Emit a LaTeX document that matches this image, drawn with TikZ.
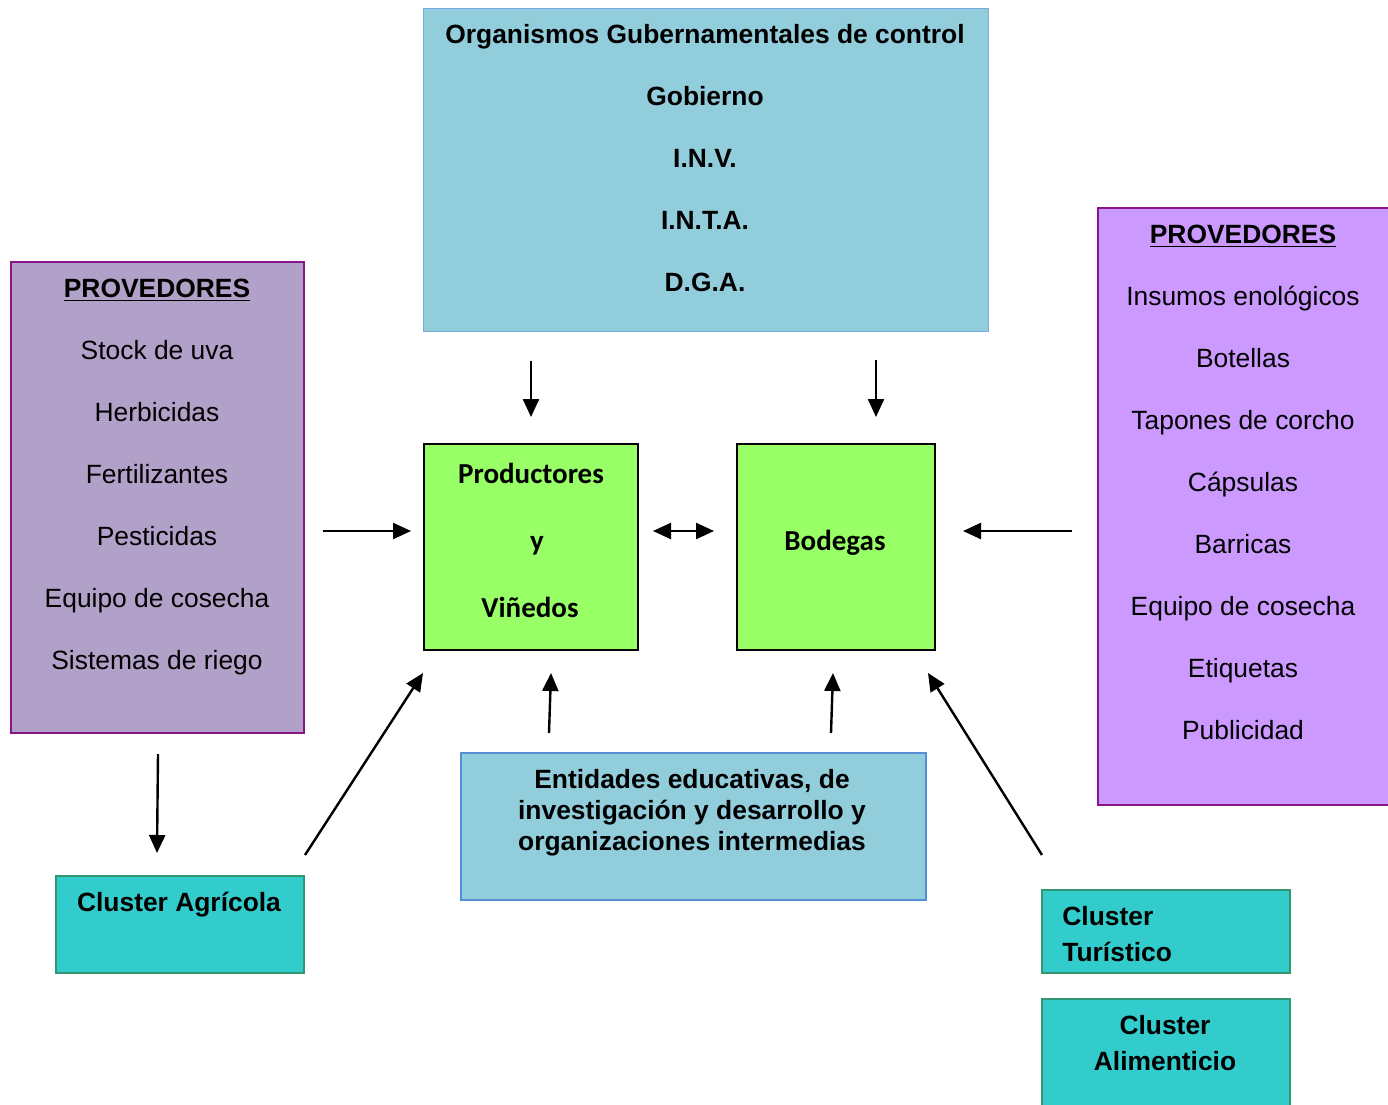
\documentclass[tikz,border=0pt]{standalone}
\usepackage{fontspec}
\setmainfont{Liberation Sans}
\newfontfamily\calib{Carlito}
\usetikzlibrary{arrows.meta,calc}
\definecolor{govfill}{RGB}{146,205,220}
\definecolor{govline}{RGB}{120,168,224}
\definecolor{entline}{RGB}{85,142,213}
\definecolor{lpfill}{RGB}{177,160,199}
\definecolor{rpfill}{RGB}{204,153,255}
\definecolor{pline}{RGB}{137,22,137}
\definecolor{gfill}{RGB}{153,255,102}
\definecolor{cfill}{RGB}{51,204,204}
\definecolor{cline}{RGB}{52,150,110}
\begin{document}
\begin{tikzpicture}[x=0.5pt,y=-0.5pt,
  box/.style={draw, line width=1pt, inner sep=0pt, anchor=north west},
  govbox/.style={box, fill=govfill, draw=govline, line width=0.7pt},
  entbox/.style={box, fill=govfill, draw=entline, line width=1pt},
  lpbox/.style={box, fill=lpfill, draw=pline},
  rpbox/.style={box, fill=rpfill, draw=pline},
  gbox/.style={box, fill=gfill, draw=black},
  cbox/.style={box, fill=cfill, draw=cline},
  txt/.style={anchor=base, inner sep=0pt, font=\fontsize{13.2}{15}\selectfont},
  btxt/.style={anchor=base, inner sep=0pt, font=\fontsize{13.2}{15}\selectfont\bfseries},
  ctxt/.style={anchor=base, inner sep=0pt, font=\fontsize{14.5}{16}\selectfont\calib\bfseries},
  arr/.style={line width=1.2pt, -{Triangle[length=9pt,width=8pt]}},
  darr/.style={line width=1.2pt, {Triangle[length=9pt,width=8pt]}-{Triangle[length=9pt,width=8pt]}}]
\useasboundingbox (0,0) rectangle (1388,1104);
\fill[white] (0,0) rectangle (1388,1104);
\clip (0,0) rectangle (1388,1104);
% boxes
\node[govbox, minimum width=282.5pt, minimum height=161.5pt] (gov) at (423,8) {};
\node[lpbox, minimum width=146.5pt, minimum height=235.5pt] (lprov) at (10,261) {};
\node[rpbox, minimum width=155pt, minimum height=298.5pt] (rprov) at (1097,207) {};
\node[gbox, minimum width=107pt, minimum height=103pt] (prod) at (423,443) {};
\node[gbox, minimum width=99pt, minimum height=103pt] (bod) at (736,443) {};
\node[entbox, minimum width=232.5pt, minimum height=73.5pt] (ent) at (460,752) {};
\node[cbox, minimum width=124pt, minimum height=48.5pt] (agr) at (55,875) {};
\node[cbox, minimum width=124pt, minimum height=41.5pt] (tur) at (1041,889) {};
\node[cbox, minimum width=124pt, minimum height=60pt] (ali) at (1041,998) {};
% government texts
\node[btxt] (g1) at (705,43) {Organismos Gubernamentales de control};
\node[btxt] (g2) at (705,105) {Gobierno};
\node[btxt] (g3) at (705,167) {I.N.V.};
\node[btxt] (g4) at (705,229) {I.N.T.A.};
\node[btxt] (g5) at (705,291) {D.G.A.};
% left providers
\node[btxt] (l0) at (157,297) {\underline{PROVEDORES}};
\node[txt] (l1) at (157,359) {Stock de uva};
\node[txt] (l2) at (157,421) {Herbicidas};
\node[txt] (l3) at (157,483) {Fertilizantes};
\node[txt] (l4) at (157,545) {Pesticidas};
\node[txt] (l5) at (157,607) {Equipo de cosecha};
\node[txt] (l6) at (157,669) {Sistemas de riego};
% right providers
\node[btxt] (r0) at (1243,243) {\underline{PROVEDORES}};
\node[txt] (r1) at (1243,305) {Insumos enológicos};
\node[txt] (r2) at (1243,367) {Botellas};
\node[txt] (r3) at (1243,429) {Tapones de corcho};
\node[txt] (r4) at (1243,491) {Cápsulas};
\node[txt] (r5) at (1243,553) {Barricas};
\node[txt] (r6) at (1243,615) {Equipo de cosecha};
\node[txt] (r7) at (1243,677) {Etiquetas};
\node[txt] (r8) at (1243,739) {Publicidad};
% green boxes
\node[ctxt] (p1) at (531,483) {Productores};
\node[ctxt] (p2) at (537,550) {y};
\node[ctxt] (p3) at (530,617) {Viñedos};
\node[ctxt] (b1) at (835,550) {Bodegas};
% entidades
\node[btxt] (e1) at (692,788) {Entidades educativas, de};
\node[btxt] (e2) at (692,819) {investigación y desarrollo y};
\node[btxt] (e3) at (692,850) {organizaciones intermedias};
% clusters
\node[btxt] (a1) at (179,911) {Cluster Agrícola};
\node[btxt, anchor=base west] (t1) at (1062,925) {Cluster};
\node[btxt, anchor=base west] (t2) at (1062,961) {Turístico};
\node[btxt] (m1) at (1165,1034) {Cluster};
\node[btxt] (m2) at (1165,1070) {Alimenticio};
% arrows
\draw[arr] ($(gov.south west)+(108,29)$) -- ($(prod.north west)+(108,-26)$);
\draw[arr] ($(bod.north west)+(140,-83)$) -- ($(bod.north west)+(140,-26)$);
\draw[arr] ($(lprov.north east)+(18,270)$) -- ($(prod.north west)+(-12,88)$);
\draw[darr] ($(prod.north east)+(14,88)$) -- ($(bod.north west)+(-22,88)$);
\draw[arr] ($(rprov.north west)+(-25,324)$) -- ($(bod.north east)+(27,88)$);
\draw[arr] ($(lprov.south)+(0.5,20)$) -- ($(agr.north west)+(102,-22)$);
\draw[arr] ($(agr.north east)+(0,-20)$) -- ($(prod.south west)+(0,22)$);
\draw[arr] ($(ent.north west)+(89,-19)$) -- ($(prod.south west)+(128,22)$);
\draw[arr] ($(ent.north west)+(371,-19)$) -- ($(bod.south west)+(97,22)$);
\draw[arr] ($(tur.north west)+(1,-34)$) -- ($(bod.south east)+(-8,22)$);
\end{tikzpicture}
\end{document}
